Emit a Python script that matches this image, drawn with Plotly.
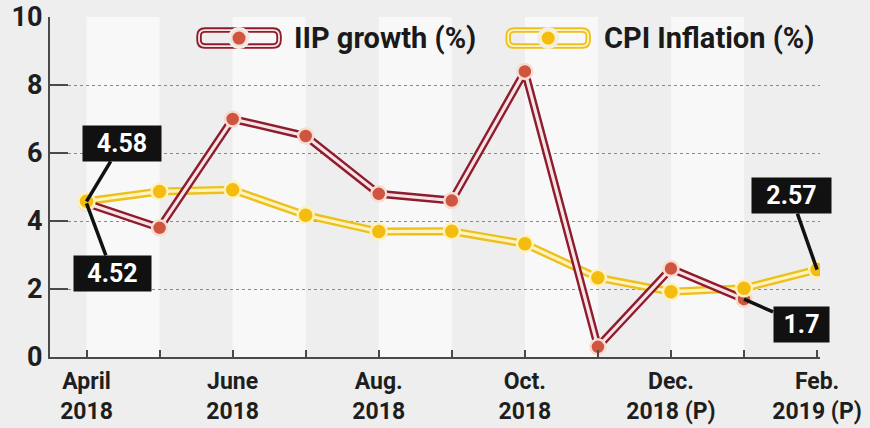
import plotly.graph_objects as go

# ---- data ----
months = ["April 2018", "May 2018", "June 2018", "July 2018", "Aug. 2018", "Sep. 2018",
          "Oct. 2018", "Nov. 2018", "Dec. 2018 (P)", "Jan. 2019 (P)", "Feb. 2019 (P)"]
tick_labels = ["April<br>2018", "", "June<br>2018", "", "Aug.<br>2018", "",
               "Oct.<br>2018", "", "Dec.<br>2018 (P)", "", "Feb.<br>2019 (P)"]
iip_growth = [4.52, 3.8, 7.0, 6.5, 4.8, 4.6, 8.4, 0.3, 2.6, 1.7, None]
cpi_inflation = [4.58, 4.87, 4.92, 4.17, 3.69, 3.70, 3.33, 2.33, 1.92, 2.02, 2.57]
y_ticks = [0, 2, 4, 6, 8, 10]
series_names = ["IIP growth (%)", "CPI Inflation (%)"]

# ---- styles ----
BG = "#EEEEEE"
BAND = "#F8F8F8"
RED_OUT, RED_IN, RED_MK, RED_RING = "#8E1B2E", "#F6E4E4", "#CF5540", "#F7DCD0"
YEL_OUT, YEL_IN, YEL_MK, YEL_RING = "#EDC01C", "#FFF3BF", "#F4BC0E", "#FFF2B8"
FONT = "Roboto"

fig = go.Figure()

def add_line(y, outer, inner):
    fig.add_trace(go.Scatter(x=months, y=y, mode="lines", line=dict(color=outer, width=8),
                             hoverinfo="skip", showlegend=False, connectgaps=False))
    fig.add_trace(go.Scatter(x=months, y=y, mode="lines", line=dict(color=inner, width=3.2),
                             hoverinfo="skip", showlegend=False, connectgaps=False))

def add_markers(y, name, fill, ring, size):
    fig.add_trace(go.Scatter(x=months, y=y, mode="markers", name=name,
                             marker=dict(color=fill, size=size, line=dict(color=ring, width=2.5)),
                             showlegend=False))

add_line(cpi_inflation, YEL_OUT, YEL_IN)
add_line(iip_growth, RED_OUT, RED_IN)
add_markers(iip_growth, series_names[0], RED_MK, RED_RING, 15)
add_markers(cpi_inflation, series_names[1], YEL_MK, YEL_RING, 16)

# alternating background bands
shapes = []
for i in range(0, len(months) - 1, 2):
    shapes.append(dict(type="rect", xref="x", yref="y", x0=i, x1=i + 1, y0=0, y1=10,
                       fillcolor=BAND, line=dict(width=0), layer="below"))

# custom legend symbols
def stadium(W, H, r):
    return (f"M {-W + r},{-H} L {W - r},{-H} Q {W},{-H} {W},{-H + r} L {W},{H - r} "
            f"Q {W},{H} {W - r},{H} L {-W + r},{H} Q {-W},{H} {-W},{H - r} "
            f"L {-W},{-H + r} Q {-W},{-H} {-W + r},{-H} Z")

leg_y = 0.938
for xa, outer, inner, mk, ring in [(0.2455, RED_OUT, RED_IN, RED_MK, RED_RING),
                                   (0.647, YEL_OUT, YEL_IN, YEL_MK, YEL_RING)]:
    common = dict(xref="paper", yref="paper", xsizemode="pixel", ysizemode="pixel",
                  xanchor=xa, yanchor=leg_y, layer="above")
    shapes.append(dict(type="path", path=stadium(40, 8, 6), line=dict(color=outer, width=5.5), **common))
    shapes.append(dict(type="path", path=stadium(40, 8, 6), line=dict(color=inner, width=1.8), **common))
    shapes.append(dict(type="circle", x0=-11, x1=11, y0=-11, y1=11, fillcolor=BG,
                       line=dict(width=0), **common))
    shapes.append(dict(type="circle", x0=-7.5, x1=7.5, y0=-7.5, y1=7.5, fillcolor=mk,
                       line=dict(color=ring, width=2), **common))

annotations = [
    dict(xref="paper", yref="paper", x=0.3143, y=leg_y, xanchor="left", yanchor="middle",
         text=series_names[0], showarrow=False,
         font=dict(family=FONT, size=29, color="#1A1A1A", weight="bold")),
    dict(xref="paper", yref="paper", x=0.7175, y=leg_y, xanchor="left", yanchor="middle",
         text=series_names[1], showarrow=False,
         font=dict(family=FONT, size=29, color="#1A1A1A", weight="bold")),
]

def callout(x, y, text, ax, ay, w):
    return dict(x=x, y=y, xref="x", yref="y", text=text, showarrow=True, arrowhead=0,
                arrowwidth=3.5, arrowcolor="#111111", ax=ax, ay=ay, standoff=0,
                bgcolor="#111111", borderpad=2, width=w, height=31,
                font=dict(family=FONT, size=25, color="white", weight="bold"))

annotations += [
    callout(months[0], cpi_inflation[0], f"{cpi_inflation[0]:.2f}", 35, -58, 74),
    callout(months[0], iip_growth[0], f"{iip_growth[0]:.2f}", 26, 70, 73),
    callout(months[10], cpi_inflation[10], f"{cpi_inflation[10]:.2f}", -26, -74, 75),
    callout(months[9], iip_growth[9], f"{iip_growth[9]}", 57, 25, 51),
]

fig.update_layout(
    width=870, height=428,
    margin=dict(l=50, r=50, t=17, b=71, autoexpand=False),
    paper_bgcolor=BG, plot_bgcolor=BG,
    shapes=shapes, annotations=annotations,
    showlegend=False,
    xaxis=dict(type="category", categoryorder="array", categoryarray=months,
               range=[-0.5, 10.04], tickmode="array", tickvals=months, ticktext=tick_labels,
               showgrid=False, showline=True, linecolor="#4A4A4A", linewidth=2,
               ticks="inside", ticklen=7, tickwidth=2, tickcolor="#4A4A4A",
               ticklabelstandoff=2, automargin=False,
               tickfont=dict(family=FONT, size=23, color="#1E1E1E", weight="bold"),
               zeroline=False, fixedrange=True),
    yaxis=dict(range=[0, 10], tickmode="array", tickvals=y_ticks,
               showgrid=True, gridcolor="#8A8A8A", gridwidth=1, griddash="dot",
               showline=True, linecolor="#4A4A4A", linewidth=2,
               ticks="inside", ticklen=18, tickwidth=2, tickcolor="#4A4A4A",
               automargin=False,
               tickfont=dict(family=FONT, size=27, color="#1E1E1E", weight="bold"),
               zeroline=False, fixedrange=True),
)

fig.write_html("out.html")
